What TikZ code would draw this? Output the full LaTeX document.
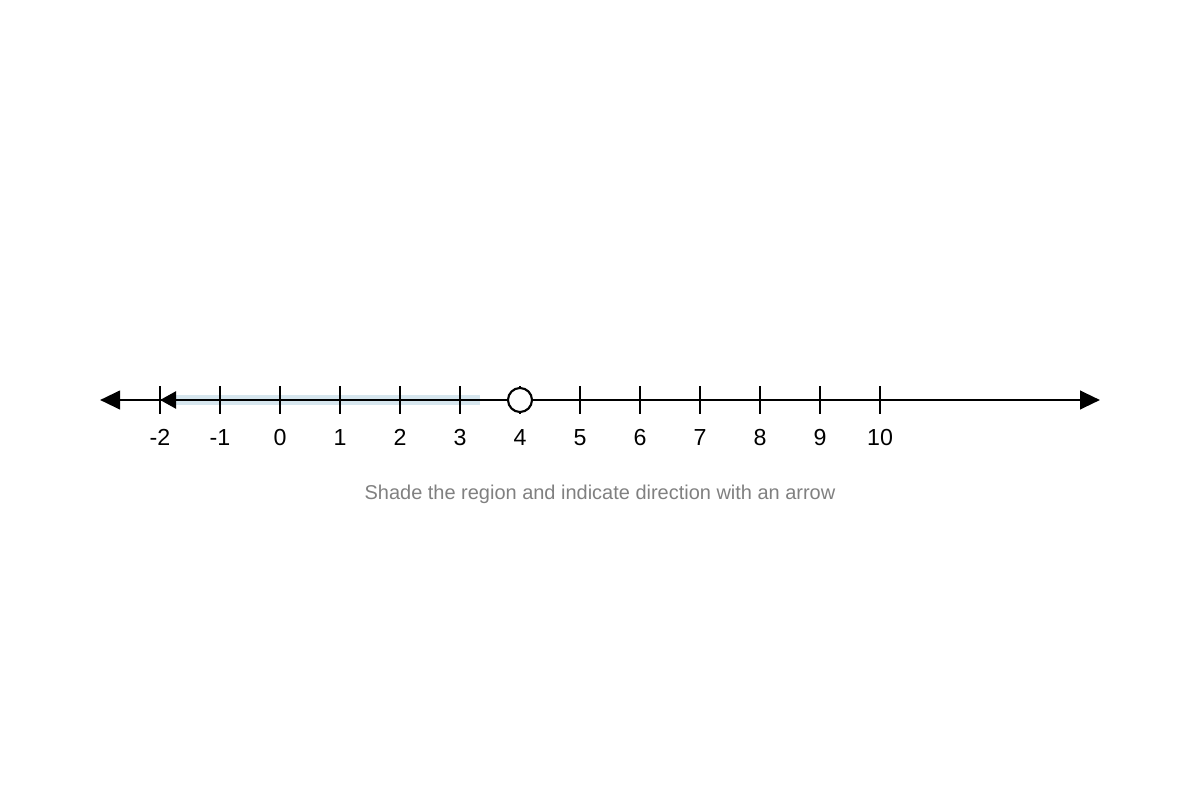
\documentclass[tikz,border=0pt]{standalone}
\usepackage{fontspec}
\setmainfont{Liberation Sans}
\usetikzlibrary{arrows.meta,positioning,calc}
\usepackage{xcolor}
\definecolor{shadeblue}{HTML}{D6E6EE}
\definecolor{hintgray}{HTML}{808080}

\begin{document}
\begin{tikzpicture}[x=0.025cm, y=-0.025cm]
    \tikzstyle{axis} = [line width=2.1pt, {Triangle[length=0.5cm,width=0.46cm]}-{Triangle[length=0.5cm,width=0.46cm]}]
    \tikzstyle{tick} = [line width=1.5pt]
    \tikzstyle{ticklabel} = [font=\fontsize{16.5pt}{19pt}\selectfont, inner sep=0pt, anchor=base]
    \tikzstyle{hole} = [circle, draw, line width=1.5pt, fill=white, minimum size=0.6cm, inner sep=0pt]
    \tikzstyle{hint} = [font=\fontsize{14.2pt}{17pt}\selectfont, text=hintgray, inner sep=0pt]

    \useasboundingbox (0,0) rectangle (1200,800);

    % shaded region
    \fill[shadeblue] (175,395) rectangle (480,405);

    % number line
    \coordinate (left) at (100,400);
    \coordinate (right) at (1100,400);
    \draw[axis] (left) -- (right);

    % ticks and labels
    \foreach \n [evaluate=\n as \xx using 280+60*\n] in {-2,...,10} {
        \draw[tick] (\xx,386) -- (\xx,414);
        \node[ticklabel] (lbl\n) at (\xx,445) {\n};
    }

    % direction arrow of the region
    \coordinate (regionend) at (176,400);
    \coordinate (regiontip) at (160,400);
    \draw[line width=2.1pt, -{Triangle[length=0.4cm,width=0.42cm]}] (regionend) -- (regiontip);

    % open end point
    \node[hole] (open) at (520,400) {};

    \node[hint] (caption) at (600,494) {Shade the region and indicate direction with an arrow};
\end{tikzpicture}
\end{document}
